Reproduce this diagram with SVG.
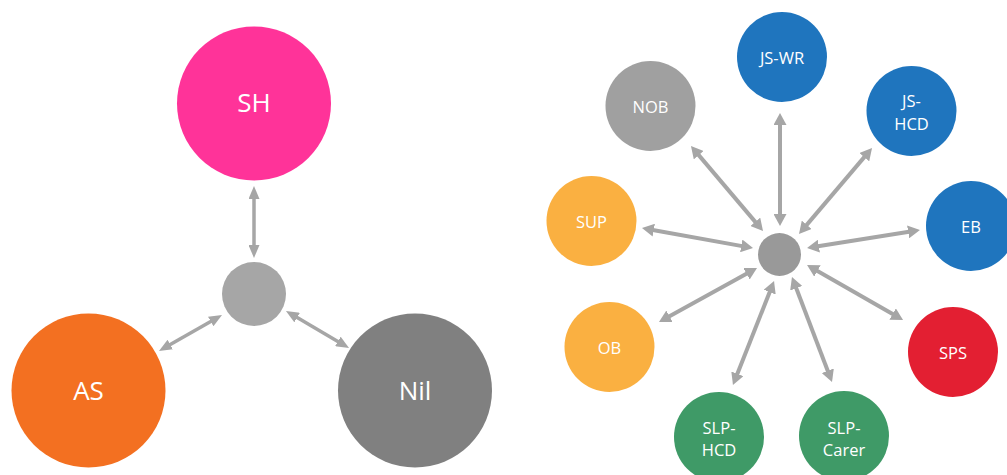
<svg xmlns="http://www.w3.org/2000/svg" width="1007" height="475" viewBox="0 0 1007 475">
  <style>
    .lbl { font-family: "Open Sans", "Noto Sans", "Liberation Sans", sans-serif; fill: #ffffff; text-anchor: middle; dominant-baseline: central; }
    .big { font-size: 26px; }
    .small { font-size: 16.5px; }
    .link { stroke: #a6a6a6; fill: none; stroke-linecap: butt; }
    .thin { stroke-width: 3.5; marker-start: url(#tipL); marker-end: url(#tipL); }
    .thick { stroke-width: 4; marker-start: url(#tipR); marker-end: url(#tipR); }
  </style>
  <defs>
    <!-- slender head for the three-node cluster -->
    <marker id="tipL" viewBox="0 0 13 11" refX="1" refY="5.5" markerWidth="13" markerHeight="11" markerUnits="userSpaceOnUse" orient="auto-start-reverse">
      <path d="M0,0 L13,5.5 L0,11 z" fill="#a6a6a6"/>
    </marker>
    <!-- wider head for the star cluster -->
    <marker id="tipR" viewBox="0 0 12 13" refX="1" refY="6.5" markerWidth="12" markerHeight="13" markerUnits="userSpaceOnUse" orient="auto-start-reverse">
      <path d="M0,0 L12,6.5 L0,13 z" fill="#a6a6a6"/>
    </marker>
  </defs>
  <rect width="1007" height="475" fill="#ffffff"/>

  <!-- left cluster -->
  <g id="left-hub"><circle cx="254" cy="294" r="32" fill="#a6a6a6"/></g>
  <g id="node-sh"><circle cx="254" cy="103.5" r="77" fill="#ff3399"/><text class="lbl big" x="254" y="102">SH</text></g>
  <g id="node-as"><circle cx="88.5" cy="390.5" r="77" fill="#f37021"/><text class="lbl big" x="88.5" y="390">AS</text></g>
  <g id="node-nil"><circle cx="415" cy="390.5" r="77" fill="#808080"/><text class="lbl big" x="415" y="390">Nil</text></g>

  <!-- right cluster -->
  <g id="right-hub"><circle cx="779.5" cy="254.5" r="21.5" fill="#999999"/></g>
  <g id="node-nob"><circle cx="650.5" cy="106" r="45" fill="#a0a0a0"/><text class="lbl small" x="650.5" y="106">NOB</text></g>
  <g id="node-jswr"><circle cx="782" cy="57" r="45" fill="#1f75be"/><text class="lbl small" x="782" y="57">JS-WR</text></g>
  <g id="node-jshcd"><circle cx="911.5" cy="111" r="45" fill="#1f75be"/><text class="lbl small" x="911.5" y="100">JS-</text><text class="lbl small" x="911.5" y="123">HCD</text></g>
  <g id="node-eb"><circle cx="971" cy="226" r="45" fill="#1f75be"/><text class="lbl small" x="971" y="226">EB</text></g>
  <g id="node-sup"><circle cx="591.5" cy="221" r="45" fill="#fab041"/><text class="lbl small" x="591.5" y="221">SUP</text></g>
  <g id="node-ob"><circle cx="609.5" cy="347" r="45" fill="#fab041"/><text class="lbl small" x="609.5" y="347">OB</text></g>
  <g id="node-sps"><circle cx="953" cy="352" r="45" fill="#e31f32"/><text class="lbl small" x="953" y="352">SPS</text></g>
  <g id="node-slphcd"><circle cx="719" cy="437" r="45" fill="#3f9a67"/><text class="lbl small" x="719" y="427">SLP-</text><text class="lbl small" x="719" y="449">HCD</text></g>
  <g id="node-slpcarer"><circle cx="844" cy="436" r="45" fill="#3f9a67"/><text class="lbl small" x="844" y="427">SLP-</text><text class="lbl small" x="844" y="449">Carer</text></g>

  <!-- two-headed connectors -->
  <g id="connectors">
    <line class="link thin" x1="254" y1="198" x2="254" y2="246"/>
    <line class="link thin" x1="169.4" y1="345.05" x2="211.6" y2="320.95"/>
    <line class="link thin" x1="296.3" y1="317.1" x2="338.7" y2="341.9"/>

    <line class="link thick" x1="780" y1="124" x2="780" y2="215"/>
    <line class="link thick" x1="698.1" y1="154.4" x2="755.9" y2="222.6"/>
    <line class="link thick" x1="864.9" y1="156.4" x2="806.1" y2="225.6"/>
    <line class="link thick" x1="652.8" y1="230" x2="742.2" y2="246.1"/>
    <line class="link thick" x1="817.9" y1="246.3" x2="909.1" y2="231.7"/>
    <line class="link thick" x1="668.6" y1="316.7" x2="747.4" y2="273.3"/>
    <line class="link thick" x1="816.6" y1="270.5" x2="893.5" y2="314.5"/>
    <line class="link thick" x1="770" y1="291.2" x2="737" y2="374.8"/>
    <line class="link thick" x1="795.9" y1="287.3" x2="828.1" y2="371.7"/>
  </g>
</svg>
